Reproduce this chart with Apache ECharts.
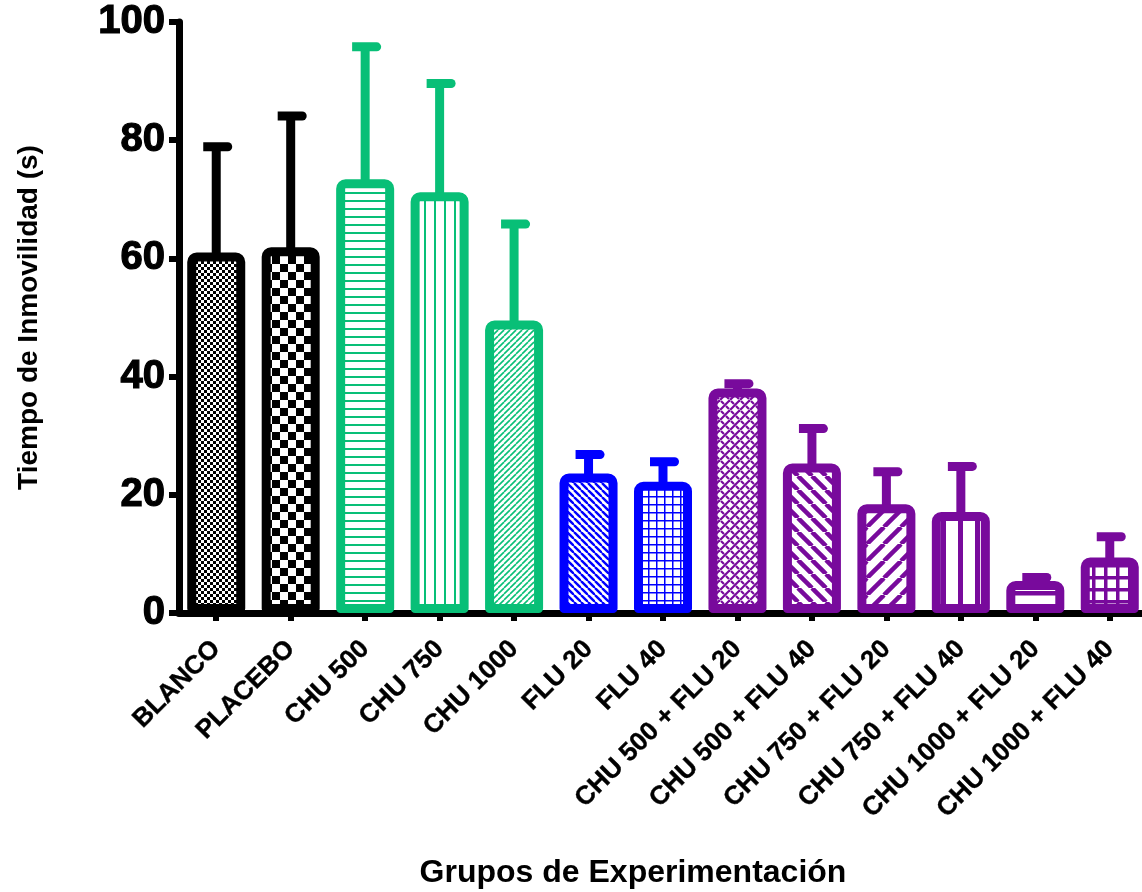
<!DOCTYPE html>
<html>
<head>
<meta charset="utf-8">
<script src="https://cdn.jsdelivr.net/npm/echarts@6/dist/echarts.min.js"></script>
<style>
html,body{margin:0;padding:0;background:#fff;}
#c{width:1142px;height:892px;}
</style>
</head>
<body>
<div id="c"></div>
<script>
// ---- data ----
const categories = ['BLANCO','PLACEBO','CHU 500','CHU 750','CHU 1000','FLU 20','FLU 40',
  'CHU 500 + FLU 20','CHU 500 + FLU 40','CHU 750 + FLU 20','CHU 750 + FLU 40',
  'CHU 1000 + FLU 20','CHU 1000 + FLU 40'];
const means = [61.0, 61.9, 73.4, 71.2, 49.5, 23.6, 22.2, 38.0, 25.3, 18.4, 17.1, 5.4, 9.4];
const errors = [17.9, 22.2, 22.4, 18.4, 16.3, 3.2, 3.4, 0.8, 5.9, 5.5, 7.7, 0.6, 3.5];
const yTicks = [0, 20, 40, 60, 80, 100];

// ---- styles ----
const BLACK = '#000000', GREEN = '#08BF77', BLUE = '#0000FF', PURPLE = '#780A9C';
const barColors = [BLACK, BLACK, GREEN, GREEN, GREEN, BLUE, BLUE, PURPLE, PURPLE, PURPLE, PURPLE, PURPLE, PURPLE];
const barPatterns = ['checkSmall','checkLarge','hlinesThin','vlinesThin','diagUpThin','diagDownBlue','gridThin',
  'brick','diagDownThick','diagUpThick','vlinesThick','hlinesThick','gridThick'];

function makePattern(type, color) {
  const c = document.createElement('canvas');
  const sizes = {checkSmall:6, checkLarge:16, hlinesThin:8, vlinesThin:10, diagUpThin:6, diagDownBlue:7,
    gridThin:8, brick:10, diagDownThick:14, diagUpThick:17, vlinesThick:17, hlinesThick:15, gridThick:12};
  const s = sizes[type] || 8;
  c.width = s; c.height = s;
  const g = c.getContext('2d');
  g.fillStyle = '#fff'; g.fillRect(0, 0, s, s);
  g.fillStyle = color; g.strokeStyle = color;
  const diag = (dir, w) => {
    g.lineWidth = w; g.lineCap = 'butt';
    for (let k = -1; k <= 1; k++) {
      g.beginPath();
      if (dir === 'up') { g.moveTo(k * s, s); g.lineTo(k * s + s, 0); }
      else { g.moveTo(k * s, 0); g.lineTo(k * s + s, s); }
      g.stroke();
    }
  };
  switch (type) {
    case 'checkSmall': g.fillRect(0,0,3,3); g.fillRect(3,3,3,3); break;
    case 'checkLarge': g.fillRect(0,0,8,8); g.fillRect(8,8,8,8); break;
    case 'hlinesThin': g.fillRect(0,0,s,2); break;
    case 'vlinesThin': g.fillRect(4,0,2,s); break;
    case 'diagUpThin': diag('up', 1.6); break;
    case 'diagDownBlue': diag('down', 2.4); break;
    case 'gridThin': g.fillRect(0,0,s,1.5); g.fillRect(0,0,1.5,s); break;
    case 'brick':
      diag('up', 2.2);
      g.lineWidth = 2.2;
      g.beginPath(); g.moveTo(1, 1); g.lineTo(4, 4); g.stroke();
      g.beginPath(); g.moveTo(6, 6); g.lineTo(9, 9); g.stroke();
      break;
    case 'diagDownThick': diag('down', 4.5); break;
    case 'diagUpThick': diag('up', 4.5); break;
    case 'vlinesThick': g.fillRect(6,0,5,s); break;
    case 'hlinesThick': g.fillRect(0,6,s,4.5); break;
    case 'gridThick': g.fillRect(0,0,s,3.5); g.fillRect(0,0,3.5,s); break;
  }
  return {image: c, repeat: 'repeat'};
}

const barData = means.map((v, i) => ({
  value: v,
  itemStyle: {
    color: makePattern(barPatterns[i], barColors[i]),
    borderColor: barColors[i],
    borderWidth: 9,
    borderJoin: 'round',
    borderRadius: [5, 5, 0, 0]
  }
}));
const errData = means.map((v, i) => [i, v, v + errors[i]]);

const FONT = '"Liberation Sans", Arial, Helvetica, sans-serif';

const chart = echarts.init(document.getElementById('c'), null, {renderer: 'canvas'});
chart.setOption({
  backgroundColor: '#fff',
  animation: false,
  grid: {left: 179, width: 968, top: 22, bottom: 279, containLabel: false, outerBoundsMode: 'none'},
  xAxis: {
    type: 'category',
    data: categories,
    boundaryGap: true,
    name: 'Grupos de Experimentación',
    nameLocation: 'middle',
    nameGap: 244,
    nameTextStyle: {fontFamily: FONT, fontWeight: 'bold', fontSize: 32, color: '#000', padding: [0, 60, 0, 0]},
    axisLine: {show: true, lineStyle: {color: '#000', width: 7}},
    axisTick: {show: true, alignWithLabel: true, interval: 0, length: 8, lineStyle: {color: '#000', width: 6}},
    axisLabel: {interval: 0, rotate: 45, margin: 32, fontFamily: FONT, fontWeight: 'bold', fontSize: 26, color: '#000',
      textBorderColor: '#000', textBorderWidth: 0.4},
    splitLine: {show: false}
  },
  yAxis: {
    type: 'value',
    min: yTicks[0],
    max: yTicks[yTicks.length - 1],
    interval: yTicks[1] - yTicks[0],
    name: 'Tiempo de Inmovilidad (s)',
    nameLocation: 'middle',
    nameGap: 136,
    nameTextStyle: {fontFamily: FONT, fontWeight: 'bold', fontSize: 28, color: '#000'},
    axisLine: {show: true, lineStyle: {color: '#000', width: 7}},
    axisTick: {show: true, length: 10, lineStyle: {color: '#000', width: 6}},
    axisLabel: {margin: 14, fontFamily: FONT, fontWeight: 'bold', fontSize: 40, color: '#000',
      textBorderColor: '#000', textBorderWidth: 1.2},
    splitLine: {show: false}
  },
  series: [
    {
      type: 'custom',
      z: 1,
      data: errData,
      renderItem: function (params, api) {
        const top = api.coord([api.value(0), api.value(2)]);
        const base = api.coord([api.value(0), api.value(1)]);
        const x = top[0];
        return {
          type: 'group',
          children: [
            {type: 'rect', shape: {x: x - 4.5, y: top[1], width: 9, height: base[1] - top[1] + 5},
              style: {fill: barColors[params.dataIndex]}},
            {type: 'rect', shape: {x: x - 13, y: top[1] - 4.5, width: 29, height: 9, r: [0, 4.5, 4.5, 0]},
              style: {fill: barColors[params.dataIndex]}}
          ]
        };
      }
    },
    {
      type: 'bar',
      z: 2,
      data: barData,
      barWidth: 58
    }
  ]
});
</script>
</body>
</html>
